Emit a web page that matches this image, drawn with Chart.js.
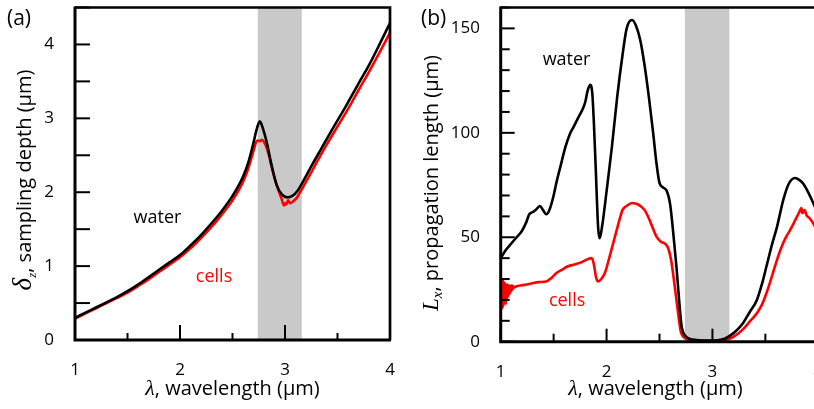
<!DOCTYPE html>
<html>
<head>
<meta charset="utf-8">
<script src="https://cdn.jsdelivr.net/npm/chart.js@4.4.1/dist/chart.umd.min.js"></script>
<style>
  html, body { margin: 0; padding: 0; overflow: hidden; background: #fff; }
  #wrap { position: relative; width: 814px; height: 409px; overflow: hidden; }
  canvas { position: absolute; top: 0; }
  #depthChart { left: 0; }
  #lengthChart { left: 410px; }
  .panel { position: absolute; top: 3px; font: 21px "Open Sans", sans-serif; color: #000; }
</style>
</head>
<body>
<div id="wrap">
  <canvas id="depthChart" width="410" height="409"></canvas>
  <canvas id="lengthChart" width="420" height="409"></canvas>
  <div class="panel" style="left:7px">(a)</div>
  <div class="panel" style="left:421px">(b)</div>
</div>
<script>
// shaded absorption band (µm)
const bandRange = [2.74, 3.16];

// (a) sampling depth
const waterDepthLambda = [1.00, 1.10, 1.20, 1.30, 1.40, 1.50, 1.60, 1.70, 1.80, 1.90, 2.00, 2.10, 2.20, 2.30, 2.40, 2.50, 2.60, 2.65, 2.70, 2.73, 2.76, 2.79, 2.83, 2.87, 2.92, 2.97, 3.02, 3.07, 3.12, 3.17, 3.25, 3.35, 3.45, 3.59, 3.70, 3.80, 3.90, 4.00];
const waterDepth = [0.30, 0.37, 0.44, 0.51, 0.58, 0.66, 0.75, 0.85, 0.95, 1.05, 1.15, 1.28, 1.42, 1.58, 1.75, 1.95, 2.21, 2.40, 2.67, 2.85, 2.96, 2.86, 2.65, 2.38, 2.10, 1.97, 1.93, 1.95, 2.02, 2.14, 2.35, 2.60, 2.85, 3.19, 3.47, 3.72, 4.00, 4.29];
const cellsDepthLambda = [1.00, 1.10, 1.20, 1.30, 1.40, 1.50, 1.60, 1.70, 1.80, 1.90, 2.00, 2.10, 2.20, 2.30, 2.40, 2.50, 2.60, 2.65, 2.70, 2.72, 2.74, 2.76, 2.78, 2.80, 2.82, 2.85, 2.88, 2.92, 2.95, 2.97, 2.99, 3.00, 3.01, 3.03, 3.05, 3.08, 3.11, 3.14, 3.20, 3.30, 3.40, 3.50, 3.59, 3.70, 3.80, 3.90, 4.00];
const cellsDepth = [0.29, 0.36, 0.43, 0.50, 0.57, 0.64, 0.73, 0.82, 0.92, 1.02, 1.12, 1.24, 1.38, 1.53, 1.70, 1.89, 2.14, 2.32, 2.56, 2.66, 2.70, 2.69, 2.71, 2.68, 2.62, 2.48, 2.30, 2.10, 1.98, 1.90, 1.82, 1.85, 1.83, 1.89, 1.85, 1.88, 1.92, 1.99, 2.14, 2.40, 2.65, 2.89, 3.10, 3.38, 3.63, 3.89, 4.16];

// (b) propagation length
const waterLengthLambda = [1.00, 1.05, 1.10, 1.15, 1.20, 1.24, 1.27, 1.30, 1.33, 1.37, 1.40, 1.43, 1.46, 1.50, 1.53, 1.57, 1.61, 1.65, 1.69, 1.73, 1.78, 1.80, 1.82, 1.845, 1.865, 1.88, 1.90, 1.92, 1.935, 1.96, 2.00, 2.05, 2.10, 2.15, 2.19, 2.24, 2.28, 2.32, 2.36, 2.40, 2.44, 2.47, 2.50, 2.53, 2.57, 2.60, 2.63, 2.66, 2.69, 2.71, 2.74, 2.78, 2.85, 2.95, 3.05, 3.12, 3.17, 3.23, 3.29, 3.35, 3.42, 3.47, 3.51, 3.56, 3.61, 3.67, 3.72, 3.78, 3.82, 3.86, 3.91, 3.96, 4.00];
const waterLength = [40, 44, 47, 50, 53, 57, 61, 62, 63, 65, 63, 61, 63, 70, 77, 85, 93, 99, 103, 107, 112, 115, 120, 123, 119, 105, 80, 55, 49.5, 56, 72, 93, 117, 137, 150, 154, 151, 144, 132, 117, 100, 86, 76, 74, 72, 66, 52, 36, 17, 7, 3, 1.5, 0.8, 0.5, 0.7, 1.5, 3, 5.5, 9, 14, 20, 28, 36, 46, 55, 68, 75.5, 78.4, 77.5, 75.5, 71, 65.5, 61];
const cellsLengthLambda = [1.000, 1.004, 1.008, 1.012, 1.016, 1.020, 1.024, 1.028, 1.032, 1.036, 1.040, 1.044, 1.048, 1.052, 1.056, 1.060, 1.065, 1.070, 1.075, 1.080, 1.086, 1.092, 1.098, 1.105, 1.112, 1.120, 1.130, 1.15, 1.20, 1.26, 1.30, 1.36, 1.43, 1.48, 1.53, 1.58, 1.63, 1.70, 1.76, 1.82, 1.86, 1.88, 1.90, 1.92, 1.95, 1.985, 2.03, 2.08, 2.12, 2.15, 2.19, 2.24, 2.28, 2.32, 2.36, 2.40, 2.44, 2.47, 2.51, 2.55, 2.58, 2.61, 2.63, 2.66, 2.68, 2.70, 2.73, 2.78, 2.90, 3.05, 3.15, 3.22, 3.29, 3.35, 3.42, 3.47, 3.51, 3.56, 3.61, 3.65, 3.69, 3.74, 3.80, 3.82, 3.84, 3.85, 3.87, 3.89, 3.92, 3.96, 4.00];
const cellsLength = [22, 28, 17, 29, 16, 28, 17, 29, 18, 28, 19, 28, 18, 27, 20, 27.5, 21, 27, 22, 27, 23, 26.5, 24, 27, 25, 26.5, 26, 26.5, 27, 27.5, 28, 28.5, 28.8, 30.5, 33, 34.5, 36, 37, 38, 39.5, 40, 37, 31, 28.8, 30, 33, 41, 50.4, 58, 63, 65, 66.4, 66, 65, 63, 59, 54, 50.4, 48, 47, 45, 39, 32, 20, 12, 5, 2, 1, 0.5, 0.6, 1.2, 3, 6, 9.5, 13.6, 18, 23.2, 31, 39.2, 45, 49.6, 54, 60, 62, 64, 61.5, 63, 60.5, 59, 56, 52];

// labelled ticks
const lambdaTicks = [1, 2, 3, 4];
const depthTicks = [0, 1, 2, 3, 4];
const lengthTicks = [0, 50, 100, 150];

const sans = "'Open Sans', sans-serif";
const serif = "'Liberation Serif', 'DejaVu Serif', serif";
Chart.defaults.color = "#000";
Chart.defaults.font.family = sans;

function toPoints(xs, ys) {
  return xs.map((x, i) => ({ x, y: ys[i] }));
}

function drawParts(ctx, parts, x, y, angle) {
  ctx.save();
  ctx.translate(x, y);
  ctx.rotate(angle);
  ctx.textAlign = "left";
  ctx.textBaseline = "alphabetic";
  ctx.fillStyle = "#000";
  let total = 0;
  parts.forEach((p) => {
    ctx.font = p.font;
    total += ctx.measureText(p.text).width;
  });
  let cursor = -total / 2;
  parts.forEach((p) => {
    ctx.font = p.font;
    ctx.fillText(p.text, cursor, p.dy || 0);
    cursor += ctx.measureText(p.text).width;
  });
  ctx.restore();
}

function makeDecor(cfg) {
  return {
    id: "decor",
    beforeDatasetsDraw(chart) {
      const { ctx, chartArea: area, scales } = chart;
      const x0 = scales.x.getPixelForValue(bandRange[0]);
      const x1 = scales.x.getPixelForValue(bandRange[1]);
      ctx.save();
      ctx.fillStyle = "#c9c9c9";
      ctx.fillRect(x0, area.top, x1 - x0, area.bottom - area.top);
      ctx.restore();
    },
    afterDatasetsDraw(chart) {
      const { ctx, chartArea: area, scales } = chart;
      ctx.save();
      ctx.strokeStyle = "#000";
      ctx.lineWidth = 2;

      // ticks point into the plot
      scales.x.ticks.forEach((tick) => {
        const px = scales.x.getPixelForValue(tick.value);
        const len = tick.label === "" ? cfg.xMinor : cfg.xMajor;
        ctx.beginPath();
        ctx.moveTo(px, area.bottom);
        ctx.lineTo(px, area.bottom - len);
        ctx.stroke();
      });
      scales.y.ticks.forEach((tick) => {
        const py = scales.y.getPixelForValue(tick.value);
        const len = tick.label === "" ? cfg.yMinor : cfg.yMajor;
        ctx.beginPath();
        ctx.moveTo(area.left, py);
        ctx.lineTo(area.left + len, py);
        ctx.stroke();
      });

      // frame
      ctx.lineWidth = 2.7;
      ctx.beginPath();
      ctx.moveTo(area.left, area.top);
      ctx.lineTo(area.right, area.top);
      ctx.lineTo(area.right, area.bottom);
      ctx.stroke();
      ctx.lineWidth = 3;
      ctx.beginPath();
      ctx.moveTo(area.left, area.top - 1);
      ctx.lineTo(area.left, area.bottom);
      ctx.lineTo(area.right + 1, area.bottom);
      ctx.stroke();

      // curve names
      ctx.font = "18px " + sans;
      ctx.textAlign = "center";
      ctx.textBaseline = "middle";
      cfg.names.forEach((n) => {
        ctx.fillStyle = n.color;
        ctx.fillText(n.text, scales.x.getPixelForValue(n.at[0]), scales.y.getPixelForValue(n.at[1]));
      });
      ctx.restore();

      // axis titles
      drawParts(ctx, cfg.xTitle, (area.left + area.right) / 2 + cfg.xTitleShift, 395, 0);
      drawParts(ctx, cfg.yTitle, cfg.yTitleX, cfg.yTitleY, -Math.PI / 2);
    }
  };
}

function makeChart(id, cfg) {
  return new Chart(document.getElementById(id), {
    type: "line",
    data: {
      datasets: [
        {
          label: "water",
          data: toPoints(cfg.waterX, cfg.waterY),
          borderColor: "#000",
          borderWidth: 2.6,
          pointRadius: 0,
          cubicInterpolationMode: "monotone"
        },
        {
          label: "cells",
          data: toPoints(cfg.cellsX, cfg.cellsY),
          borderColor: "#ff0000",
          borderWidth: 2.6,
          pointRadius: 0,
          cubicInterpolationMode: "monotone"
        }
      ]
    },
    options: {
      responsive: false,
      animation: false,
      devicePixelRatio: 1,
      layout: { padding: { left: 0, top: 7.5, right: cfg.padRight, bottom: 0 } },
      plugins: { legend: { display: false }, tooltip: { enabled: false } },
      scales: {
        x: {
          type: "linear",
          min: 1,
          max: 4,
          grid: { display: false },
          border: { display: false },
          ticks: {
            stepSize: 0.5,
            autoSkip: false,
            maxRotation: 0,
            padding: 12,
            font: { size: 17 },
            callback: (v) => (lambdaTicks.includes(v) ? String(v) : "")
          },
          afterFit: (scale) => {
            scale.height = cfg.xHeight;
            scale.paddingLeft = 0;
            scale.paddingRight = 0;
          }
        },
        y: {
          type: "linear",
          min: 0,
          max: cfg.yMax,
          grid: { display: false },
          border: { display: false },
          ticks: {
            stepSize: cfg.yStep,
            autoSkip: false,
            padding: cfg.yPad,
            font: { size: 17 },
            callback: (v) => (cfg.yLabels.includes(v) ? String(v) : "")
          },
          afterFit: (scale) => {
            scale.width = cfg.yWidth;
            scale.paddingTop = 0;
            scale.paddingBottom = 0;
          }
        }
      }
    },
    plugins: [makeDecor(cfg)]
  });
}

makeChart("depthChart", {
  waterX: waterDepthLambda, waterY: waterDepth,
  cellsX: cellsDepthLambda, cellsY: cellsDepth,
  yMax: 4.5, yStep: 0.5, yLabels: depthTicks,
  yWidth: 75, xHeight: 69, padRight: 20, yPad: 13,
  xMajor: 15, xMinor: 7, yMajor: 15, yMinor: 15,
  names: [
    { text: "water", color: "#000", at: [1.786, 1.654] },
    { text: "cells", color: "#ff0000", at: [2.324, 0.854] }
  ],
  xTitleShift: 0,
  xTitle: [
    { text: "λ", font: "italic 22px " + serif },
    { text: ", wavelength (μm)", font: "20px " + sans }
  ],
  yTitleX: 31, yTitleY: 180,
  yTitle: [
    { text: "δ", font: "italic 27px " + serif },
    { text: "z", font: "italic 13px " + serif, dy: 5 },
    { text: ", sampling depth (μm)", font: "20px " + sans }
  ]
});

makeChart("lengthChart", {
  waterX: waterLengthLambda, waterY: waterLength,
  cellsX: cellsLengthLambda, cellsY: cellsLength,
  yMax: 160, yStep: 10, yLabels: lengthTicks,
  yWidth: 90.7, xHeight: 67.3, padRight: 11.7, yPad: 12.7,
  xMajor: 13, xMinor: 8, yMajor: 14, yMinor: 9,
  names: [
    { text: "water", color: "#000", at: [1.622, 134.7] },
    { text: "cells", color: "#ff0000", at: [1.627, 19.5] }
  ],
  xTitleShift: -4,
  xTitle: [
    { text: "λ", font: "italic 22px " + serif },
    { text: ", wavelength (μm)", font: "20px " + sans }
  ],
  yTitleX: 28, yTitleY: 183,
  yTitle: [
    { text: "L", font: "italic 23px " + serif },
    { text: "x", font: "italic 15px " + serif, dy: 4 },
    { text: ", propagation length (μm)", font: "20px " + sans }
  ]
});
</script>
</body>
</html>
